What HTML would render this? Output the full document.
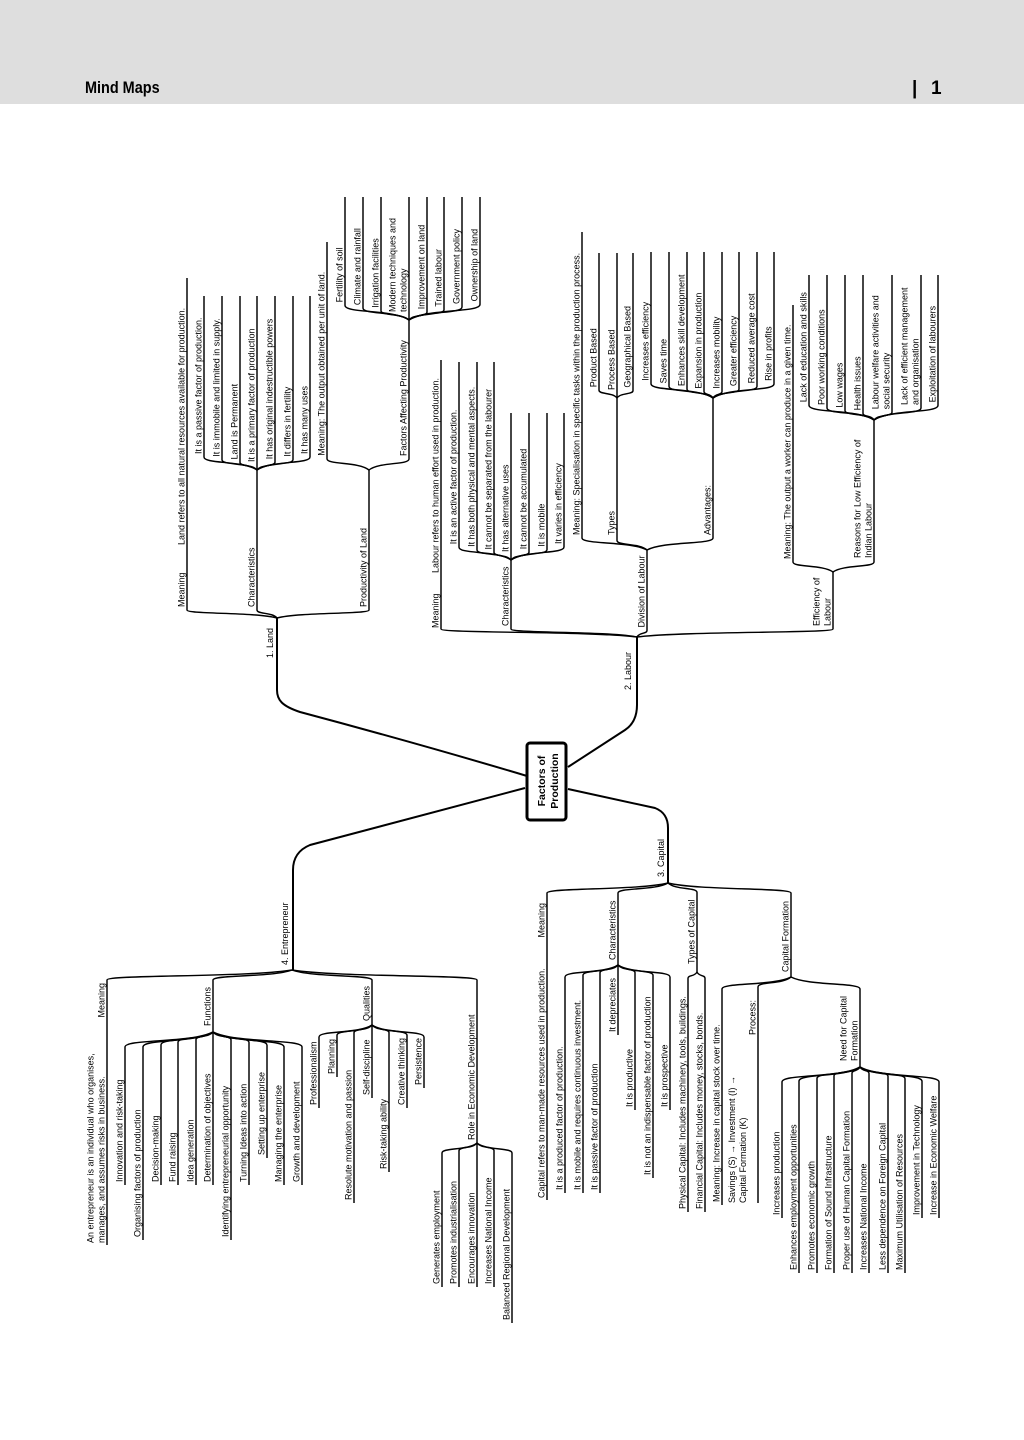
<!DOCTYPE html>
<html><head><meta charset="utf-8">
<style>
html,body{margin:0;padding:0;background:#fff;}
svg{display:block;}
text{font-family:"Liberation Sans",sans-serif;font-size:9px;fill:#000;}
.b{font-weight:bold;}
</style></head>
<body>
<svg id="s" width="1024" height="1440" viewBox="0 0 1024 1440" xmlns="http://www.w3.org/2000/svg">
<rect x="0" y="0" width="1024" height="104" fill="#dedede"/>
<text x="85" y="93" class="b" style="font-size:17px" transform="translate(85,0) scale(0.85,1) translate(-85,0)">Mind Maps</text>
<text x="912" y="94" class="b" style="font-size:19px">|</text>
<text x="931" y="94" class="b" style="font-size:19px">1</text>
<rect x="527" y="743" width="39" height="77" rx="3" fill="#fff" stroke="#000" stroke-width="3"/>
<text class="b" style="font-size:10.5px" text-anchor="middle" transform="translate(545,781) rotate(-90)">Factors of</text>
<text class="b" style="font-size:10.5px" text-anchor="middle" transform="translate(558,781) rotate(-90)">Production</text>
<g id="g"></g>
</svg>
<script>
var S=[];
function line(d,w){S.push('<path d="'+d+'" stroke="#000" stroke-width="'+(w||1.45)+'" fill="none"/>');}
function txt(x,y,lines,anchor,cls){lines=[].concat(lines);var n=lines.length;
 lines.forEach(function(s,i){var bx=x-(n-1-i)*11;
 S.push('<text '+(cls?'class="'+cls+'" ':'')+'text-anchor="'+(anchor||'start')+'" transform="translate('+bx+','+y+') rotate(-90)">'+s+'</text>');});}
function fan(hx,hy,dir,cap,items){items.forEach(function(it){
 var x=it[0],yf=it[1],t=it[2],ts=it[3];
 var dy=Math.min(cap,5+Math.abs(x-hx)*0.15);var y0=hy+dir*dy;
 line('M'+hx+','+hy+' C'+(hx+(x-hx)*0.25)+','+(hy+dir*dy*0.75)+' '+x+','+(hy+dir*dy*0.45)+' '+x+','+y0+' L'+x+','+yf);
 if(t){var s=(ts!==undefined&&ts!==null)?ts:(dir<0?y0-3:yf-3);txt(x-2.5,s,t);}
});}
// trunks
line('M527,776 C420,744 330,720 300,712 C282,706 277,700 277,690 L277,618',2);
line('M568,767 L625,730 Q637,722 637,705 L637,637',2);
line('M525,788 L310,845 Q293,852 293,870 L293,970',2);
line('M568,789 L655,808 Q668,813 668,828 L668,883',2);
txt(273,658,'1. Land');txt(631,690,'2. Labour');txt(664,877,'3. Capital');txt(288,965,'4. Entrepreneur');

// LAND
fan(277,618,-1,8,[[187,278,null],[257,470,'Characteristics'],[369,470,'Productivity of Land']]);
txt(184.5,607,'Meaning');txt(184.5,545,'Land refers to all natural resources available for production.');
fan(257,470,-1,14,[[204,296,'It is a passive factor of production.'],[222,296,'It is immobile and limited in supply.'],[240,296,'Land is Permanent'],[257,296,'It is a primary factor of production'],[275,296,'It has original indestructible powers'],[293,296,'It differs in fertility'],[310,296,'It has many uses']]);
fan(369,470,-1,14,[[327,242,'Meaning: The output obtained per unit of land.'],[409,320,'Factors Affecting Productivity']]);
fan(409,320,-1,16,[[345,197,'Fertility of soil'],[363,197,'Climate and rainfall'],[381,197,'Irrigation facilities'],[409,197,['Modern techniques and','technology']],[427,197,'Improvement on land'],[444,197,'Trained  labour'],[462,197,'Government policy'],[480,197,'Ownership of  land']]);

// LABOUR
fan(637,637,-1,8,[[441,360,null],[511,560,'Characteristics'],[647,550,'Division of Labour'],[833,572,['Efficiency of','Labour']]]);
txt(438.5,628,'Meaning');txt(438.5,573,'Labour refers to human effort used in production.');
fan(511,560,-1,14,[[459,362,'It is an active factor of production.'],[477,362,'It has both physical and mental aspects.'],[494,362,'It cannot be separated from the labourer'],[511,413,'It has alternative uses'],[529,413,'It cannot be accumulated'],[547,413,'It is mobile'],[564,413,'It varies in efficiency']]);
fan(647,550,-1,12,[[582,232,'Meaning: Specialisation in specific tasks within the production process.'],[617,398,'Types',535],[713,398,'Advantages:',535]]);
fan(617,398,-1,10,[[599,253,'Product Based'],[617,253,'Process Based'],[633,253,'Geographical Based']]);
fan(713,398,-1,16,[[651,252,'Increases efficiency'],[669,252,'Saves time'],[687,252,'Enhances skill development'],[704,252,'Expansion in production'],[722,252,'Increases mobility'],[739,252,'Greater efficiency'],[757,252,'Reduced average cost'],[774,252,'Rise in profits']]);
fan(833,572,-1,10,[[793,305,'Meaning: The output a worker can produce in a given time.'],[874,420,['Reasons for Low Efficiency of','Indian Labour'],558]]);
fan(874,420,-1,16,[[809,275,'Lack of education and skills'],[827,275,'Poor working conditions'],[845,275,'Low wages'],[863,275,'Health issues'],[892,275,['Labour welfare activities and','social security']],[921,275,['Lack of efficient management','and organisation']],[938,275,'Exploitation of  labourers']]);

// ENTREPRENEUR
fan(292,970,1,10,[[107,1245,null],[213,1032,'Functions',1026],[372,1025,'Qualities',1021],[477,1143,'Role in Economic Development',1140]]);
txt(104.5,983,'Meaning','end');
txt(104.5,1243,['An entrepreneur is an individual who organises,','manages, and assumes risks in business.']);
fan(213,1032,1,15,[[125,1185,'Innovation and risk-taking'],[143,1240,'Organising factors of production'],[161,1185,'Decision-making'],[178,1185,'Fund  raising'],[196,1185,'Idea  generation'],[213,1185,'Determination of objectives'],[231,1240,'Identifying entrepreneurial opportunity'],[249,1185,'Turning Ideas into action'],[267,1158,'Setting up enterprise'],[284,1185,'Managing the enterprise'],[302,1185,'Growth and  development']]);
fan(372,1025,1,12,[[319,1108,'Professionalism'],[337,1077,'Planning'],[354,1203,'Resolute motivation and passion'],[372,1098,'Self-discipline'],[389,1172,'Risk-taking ability'],[407,1108,'Creative thinking'],[424,1088,'Persistence']]);
fan(477,1143,1,10,[[442,1287,'Generates employment'],[459,1287,'Promotes industrialisation'],[477,1287,'Encourages innovation'],[494,1287,'Increases National Income'],[512,1323,'Balanced Regional Development']]);

// CAPITAL
fan(668,883,1,10,[[547,1200,null],[618,965,'Characteristics',960],[697,972,'Types of Capital',964],[791,977,'Capital Formation',972]]);
txt(544.5,903,'Meaning','end');
txt(544.5,1198,'Capital refers to man-made resources used in production.');
fan(618,965,1,12,[[565,1193,'It is a produced factor of production.'],[583,1193,'It is mobile and requires continuous investment.'],[600,1193,'It is passive factor of production'],[618,1035,'It depreciates'],[635,1110,'It is productive'],[653,1178,'It is not an indispensable factor of production'],[670,1110,'It is prospective']]);
fan(697,972,1,8,[[688,1212,'Physical Capital: Includes machinery, tools, buildings.'],[705,1212,'Financial Capital: Includes money, stocks, bonds.']]);
fan(791,977,1,12,[[722,1205,'Meaning: Increase in capital stock over time.'],[758,1203,null],[860,1067,['Need for Capital','Formation'],1061]]);
txt(755.5,1000,'Process:','end');
txt(746,1203,['Savings (S) \u2192 Investment (I) \u2192','Capital Formation (K)']);
fan(860,1067,1,15,[[782,1218,'Increases production'],[799,1273,'Enhances employment opportunities'],[817,1273,'Promotes economic growth'],[834,1273,'Formation of Sound Infrastructure'],[852,1273,'Proper use of Human Capital Formation'],[869,1273,'Increases National Income'],[888,1273,'Less dependence on Foreign Capital'],[905,1273,'Maximum Utilisation of Resources'],[922,1218,'Improvement in Technology'],[939,1218,'Increase in Economic Welfare']]);

document.getElementById('g').innerHTML=S.join('');
</script>
</body></html>
